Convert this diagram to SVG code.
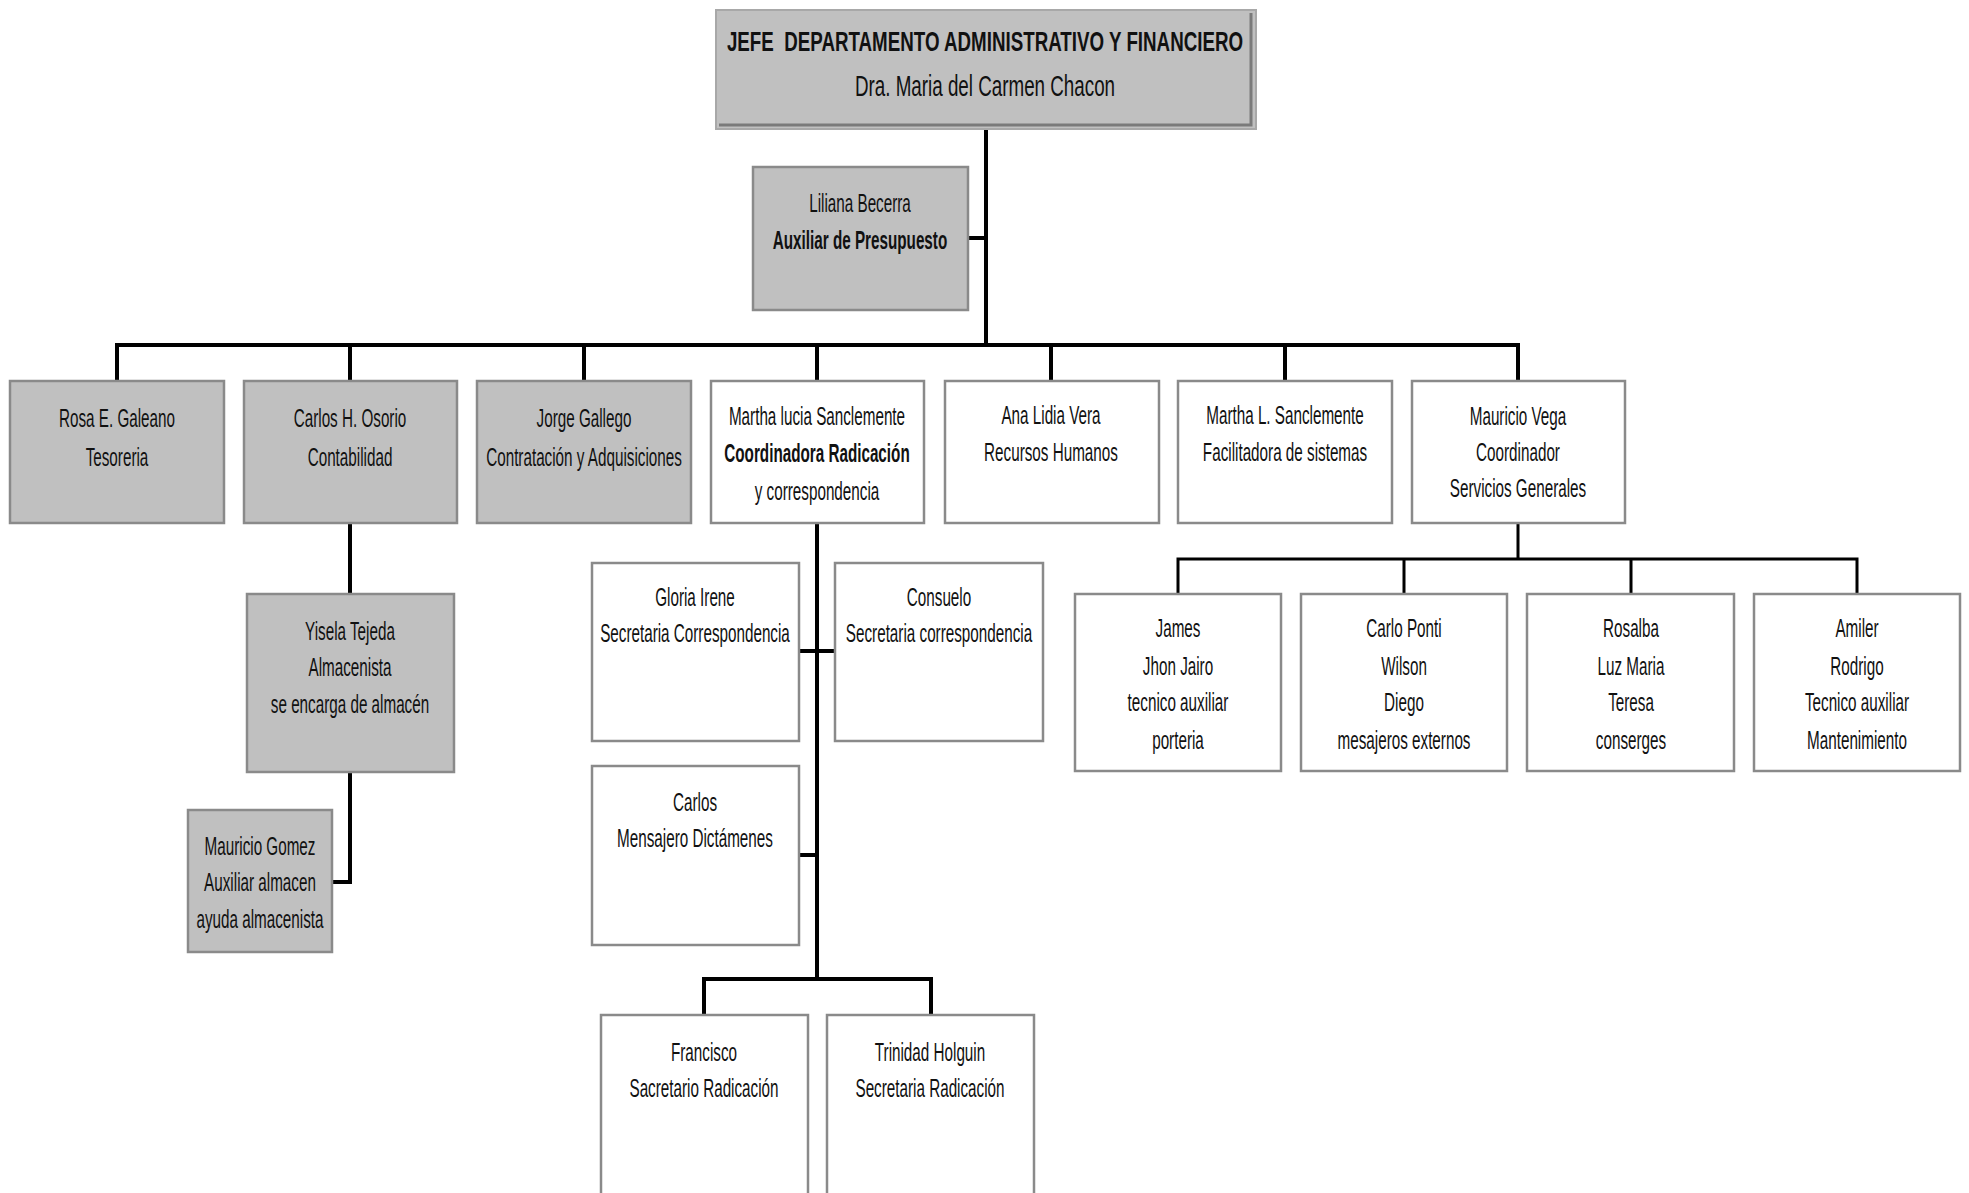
<svg xmlns="http://www.w3.org/2000/svg" width="1969" height="1193" viewBox="0 0 1969 1193">
<style>
.g{fill:#c0c0c0;stroke:#8a8a8a;stroke-width:2.5}
.w{fill:#ffffff;stroke:#8a8a8a;stroke-width:2.5}
.c{fill:none;stroke:#000;stroke-width:4;stroke-linejoin:miter;stroke-linecap:square}
.c2{fill:none;stroke:#000;stroke-width:3;stroke-linecap:square}
text{font-family:"Liberation Sans",Arial,sans-serif;font-size:25px;fill:#111;text-anchor:middle}
.b{font-weight:bold}
</style>
<rect width="1969" height="1193" fill="#fff"/>
<g id="connectors">
<path class="c" d="M986 129V345M968 238H986M117 345H1518M117 345V380M350 345V380M584 345V380M817 345V380M1051 345V380M1285 345V380M1518 345V380"/>
<path class="c" d="M350 522V594M350 772V882H332"/>
<path class="c" d="M817 522V979M799 651H835M799 855H817M704 979H931M704 979V1015M931 979V1015"/>
<path class="c2" d="M1518 523V559M1178 559H1857M1178 559V594M1404 559V594M1631 559V594M1857 559V594"/>
</g>
<g id="jefe">
<rect x="716" y="10" width="540" height="119" fill="#c0c0c0" stroke="#a8a8a8" stroke-width="2"/>
<path d="M1251 13V125H719" fill="none" stroke="#7a7a7a" stroke-width="3"/>
<text class="b" xml:space="preserve" style="font-size:28px;white-space:pre" transform="translate(985,51) scale(0.67,1)">JEFE  DEPARTAMENTO ADMINISTRATIVO Y FINANCIERO</text>
<text style="font-size:30px" transform="translate(985,96) scale(0.627,1)">Dra. Maria del Carmen Chacon</text>
</g>
<g id="liliana">
<rect class="g" x="753" y="167" width="215" height="143"/>
<text transform="translate(860,212) scale(0.61,1)">Liliana Becerra</text>
<text class="b" transform="translate(860,249) scale(0.61,1)">Auxiliar de Presupuesto</text>
</g>
<g id="rosa">
<rect class="g" x="10" y="381" width="214" height="142"/>
<text transform="translate(117,427) scale(0.61,1)">Rosa E. Galeano</text>
<text transform="translate(117,466) scale(0.61,1)">Tesoreria</text>
</g>
<g id="carlos-osorio">
<rect class="g" x="244" y="381" width="213" height="142"/>
<text transform="translate(350,427) scale(0.61,1)">Carlos H. Osorio</text>
<text transform="translate(350,466) scale(0.61,1)">Contabilidad</text>
</g>
<g id="jorge">
<rect class="g" x="477" y="381" width="214" height="142"/>
<text transform="translate(584,427) scale(0.61,1)">Jorge Gallego</text>
<text transform="translate(584,466) scale(0.61,1)">Contratación y Adquisiciones</text>
</g>
<g id="martha-lucia">
<rect class="w" x="711" y="381" width="213" height="142"/>
<text transform="translate(817,425) scale(0.61,1)">Martha lucia Sanclemente</text>
<text class="b" transform="translate(817,462) scale(0.61,1)">Coordinadora Radicación</text>
<text transform="translate(817,500) scale(0.61,1)">y correspondencia</text>
</g>
<g id="ana">
<rect class="w" x="945" y="381" width="214" height="142"/>
<text transform="translate(1051,424) scale(0.61,1)">Ana Lidia Vera</text>
<text transform="translate(1051,461) scale(0.61,1)">Recursos Humanos</text>
</g>
<g id="martha-l">
<rect class="w" x="1178" y="381" width="214" height="142"/>
<text transform="translate(1285,424) scale(0.61,1)">Martha L. Sanclemente</text>
<text transform="translate(1285,461) scale(0.61,1)">Facilitadora de sistemas</text>
</g>
<g id="mauricio-vega">
<rect class="w" x="1412" y="381" width="213" height="142"/>
<text transform="translate(1518,425) scale(0.61,1)">Mauricio Vega</text>
<text transform="translate(1518,461) scale(0.61,1)">Coordinador</text>
<text transform="translate(1518,497) scale(0.61,1)">Servicios Generales</text>
</g>
<g id="yisela">
<rect class="g" x="247" y="594" width="207" height="178"/>
<text transform="translate(350,640) scale(0.61,1)">Yisela Tejeda</text>
<text transform="translate(350,676) scale(0.61,1)">Almacenista</text>
<text transform="translate(350,713) scale(0.61,1)">se encarga de almacén</text>
</g>
<g id="mauricio-gomez">
<rect class="g" x="188" y="810" width="144" height="142"/>
<text transform="translate(260,855) scale(0.61,1)">Mauricio Gomez</text>
<text transform="translate(260,891) scale(0.61,1)">Auxiliar almacen</text>
<text transform="translate(260,928) scale(0.61,1)">ayuda almacenista</text>
</g>
<g id="gloria">
<rect class="w" x="592" y="563" width="207" height="178"/>
<text transform="translate(695,606) scale(0.61,1)">Gloria Irene</text>
<text transform="translate(695,642) scale(0.61,1)">Secretaria Correspondencia</text>
</g>
<g id="consuelo">
<rect class="w" x="835" y="563" width="208" height="178"/>
<text transform="translate(939,606) scale(0.61,1)">Consuelo</text>
<text transform="translate(939,642) scale(0.61,1)">Secretaria correspondencia</text>
</g>
<g id="carlos">
<rect class="w" x="592" y="766" width="207" height="179"/>
<text transform="translate(695,811) scale(0.61,1)">Carlos</text>
<text transform="translate(695,847) scale(0.61,1)">Mensajero Dictámenes</text>
</g>
<g id="francisco">
<rect class="w" x="601" y="1015" width="207" height="190"/>
<text transform="translate(704,1061) scale(0.61,1)">Francisco</text>
<text transform="translate(704,1097) scale(0.61,1)">Sacretario Radicación</text>
</g>
<g id="trinidad">
<rect class="w" x="827" y="1015" width="207" height="190"/>
<text transform="translate(930,1061) scale(0.61,1)">Trinidad Holguin</text>
<text transform="translate(930,1097) scale(0.61,1)">Secretaria Radicación</text>
</g>
<g id="james">
<rect class="w" x="1075" y="594" width="206" height="177"/>
<text transform="translate(1178,637) scale(0.61,1)">James</text>
<text transform="translate(1178,675) scale(0.61,1)">Jhon Jairo</text>
<text transform="translate(1178,711) scale(0.61,1)">tecnico auxiliar</text>
<text transform="translate(1178,749) scale(0.61,1)">porteria</text>
</g>
<g id="carlo-ponti">
<rect class="w" x="1301" y="594" width="206" height="177"/>
<text transform="translate(1404,637) scale(0.61,1)">Carlo Ponti</text>
<text transform="translate(1404,675) scale(0.61,1)">Wilson</text>
<text transform="translate(1404,711) scale(0.61,1)">Diego</text>
<text transform="translate(1404,749) scale(0.61,1)">mesajeros externos</text>
</g>
<g id="rosalba">
<rect class="w" x="1527" y="594" width="207" height="177"/>
<text transform="translate(1631,637) scale(0.61,1)">Rosalba</text>
<text transform="translate(1631,675) scale(0.61,1)">Luz Maria</text>
<text transform="translate(1631,711) scale(0.61,1)">Teresa</text>
<text transform="translate(1631,749) scale(0.61,1)">conserges</text>
</g>
<g id="amiler">
<rect class="w" x="1754" y="594" width="206" height="177"/>
<text transform="translate(1857,637) scale(0.61,1)">Amiler</text>
<text transform="translate(1857,675) scale(0.61,1)">Rodrigo</text>
<text transform="translate(1857,711) scale(0.61,1)">Tecnico auxiliar</text>
<text transform="translate(1857,749) scale(0.61,1)">Mantenimiento</text>
</g>
</svg>
